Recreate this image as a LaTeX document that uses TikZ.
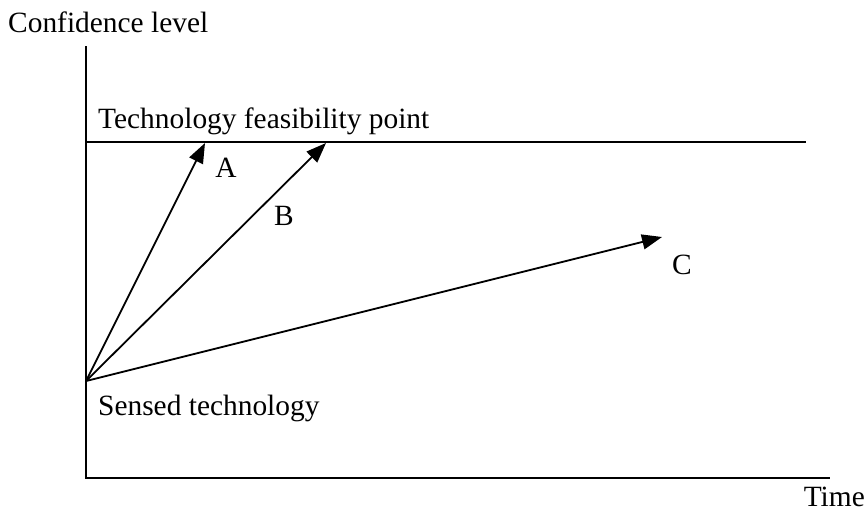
\documentclass[tikz,border=0pt]{standalone}
\usepackage{fontspec}
\setmainfont{Liberation Serif}
\usetikzlibrary{arrows.meta}
\begin{document}
\begin{tikzpicture}[x=1pt,y=-1pt,
  lbl/.style={inner sep=0pt,font=\fontsize{29.4}{34}\selectfont},
  axis/.style={line width=1.8pt},
  arr/.style={line width=1.8pt,-{Triangle[length=20pt,width=15pt]}}]
\useasboundingbox (0,0) rectangle (866,512);
\coordinate (top) at (86,46);
\coordinate (O) at (86,478);
\coordinate (xend) at (830,478);
\coordinate (S) at (86,381);
\coordinate (fl) at (86,142);
\coordinate (fr) at (806,142);
\coordinate (ta) at (205,143);
\coordinate (tb) at (326,143);
\coordinate (tc) at (662,237);
\draw[axis] (top) -- (O) -- (xend);
\draw[axis] (fl) -- (fr);
\draw[arr] (S) -- (ta);
\draw[arr] (S) -- (tb);
\draw[arr] (S) -- (tc);
\node[lbl,anchor=west] (cl) at (8,22) {Confidence level};
\node[lbl,anchor=west] (tf) at (98,121) {Technology feasibility point};
\node[lbl] (a) at (226,168) {A};
\node[lbl] (b) at (284,216) {B};
\node[lbl] (c) at (682,265) {C};
\node[lbl,anchor=west] (st) at (98,408) {Sensed technology};
\node[lbl,anchor=east] (tm) at (865,497) {Time};
\end{tikzpicture}
\end{document}
